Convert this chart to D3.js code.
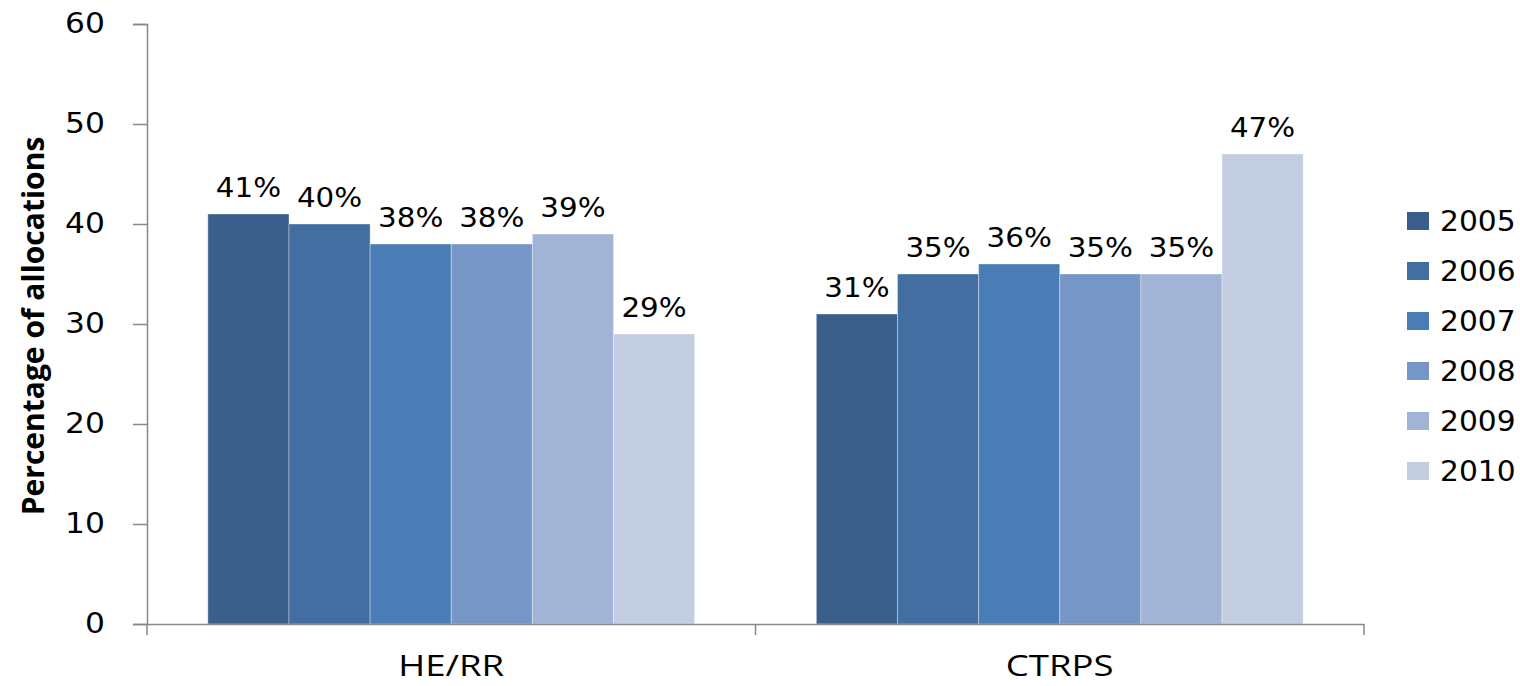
<!DOCTYPE html>
<html>
<head>
<meta charset="utf-8">
<script src="https://cdn.jsdelivr.net/npm/d3@7"></script>
<style>
  body { margin: 0; background: #fff; }
</style>
</head>
<body>
<div id="chart"></div>
<script>
const categories = ['HE/RR', 'CTRPS']
const years = ['2005', '2006', '2007', '2008', '2009', '2010']
const values = {
  '2005': [41, 31],
  '2006': [40, 35],
  '2007': [38, 36],
  '2008': [38, 35],
  '2009': [39, 35],
  '2010': [29, 47]
}
const colors = ['#3A5F8B', '#426EA1', '#4A7DB5', '#7596C6', '#A2B4D5', '#C3CDE2']
const yTicks = [0, 10, 20, 30, 40, 50, 60]

const width = 1520
const height = 686
const margin = { top: 24, right: 156, bottom: 62, left: 147 }

// the original looks stretched sideways, so text gets a small x-scale
const stretch = (sel, sx) => {
  sel.each(function () {
    const t = d3.select(this)
    const x = +t.attr('x') || 0
    const y = +t.attr('y') || 0
    t.attr('x', 0).attr('y', 0)
      .attr('transform', `translate(${x},${y}) scale(${sx},1)`)
  })
}

const svg = d3.select('#chart')
  .append('svg')
  .attr('width', width)
  .attr('height', height)

const x0 = d3.scaleBand()
  .domain(categories)
  .range([margin.left, width - margin.right])

const x1 = d3.scaleBand()
  .domain(years)
  .range([0, x0.bandwidth() * 0.8])

const y = d3.scaleLinear()
  .domain([0, 60])
  .range([height - margin.bottom, margin.top])

const color = d3.scaleOrdinal().domain(years).range(colors)

// y axis
const yAxis = svg.append('g')
  .attr('transform', `translate(${margin.left},0)`)
  .call(d3.axisLeft(y).tickValues(yTicks).tickSize(14).tickPadding(28))
yAxis.select('.domain').attr('stroke', '#888').attr('stroke-width', 1.5)
yAxis.selectAll('.tick line').attr('stroke', '#888').attr('stroke-width', 1.5)
yAxis.selectAll('.tick text')
  .attr('font-family', 'DejaVu Sans, sans-serif')
  .attr('font-size', 28)
  .attr('fill', '#000')
  .call(stretch, 1.12)

// bars
const groups = svg.append('g')
  .selectAll('g')
  .data(categories)
  .join('g')
  .attr('transform', d => `translate(${x0(d) + x0.bandwidth() * 0.1},0)`)

groups.selectAll('rect')
  .data((c, i) => years.map(yr => ({ year: yr, value: values[yr][i] })))
  .join('rect')
  .attr('x', d => x1(d.year))
  .attr('y', d => y(d.value))
  .attr('width', x1.bandwidth())
  .attr('height', d => y(0) - y(d.value))
  .attr('fill', d => color(d.year))
  .attr('stroke', 'rgba(255,255,255,0.35)')
  .attr('stroke-width', 1)

groups.selectAll('text')
  .data((c, i) => years.map(yr => ({ year: yr, value: values[yr][i] })))
  .join('text')
  .attr('x', d => x1(d.year) + x1.bandwidth() / 2)
  .attr('y', d => y(d.value) - 17)
  .attr('text-anchor', 'middle')
  .attr('font-family', 'DejaVu Sans, sans-serif')
  .attr('font-size', 26)
  .attr('fill', '#000')
  .text(d => d.value + '%')
  .call(stretch, 1.13)

// x axis
const xAxis = svg.append('g')
  .attr('transform', `translate(0,${y(0)})`)
  .call(d3.axisBottom(x0).tickSize(0).tickPadding(31))
xAxis.select('.domain').attr('stroke', '#888').attr('stroke-width', 1.5)
xAxis.selectAll('.tick text')
  .attr('font-family', 'Open Sans, sans-serif')
  .attr('font-size', 30)
  .attr('fill', '#000')
  .call(stretch, 1.22)

xAxis.selectAll('.sep')
  .data([margin.left, x0('CTRPS'), width - margin.right])
  .join('line')
  .attr('class', 'sep')
  .attr('x1', d => d)
  .attr('x2', d => d)
  .attr('y1', 0)
  .attr('y2', 11)
  .attr('stroke', '#888')
  .attr('stroke-width', 1.5)

// y axis title
svg.append('text')
  .attr('transform', `translate(44,${(margin.top + height - margin.bottom) / 2 + 2}) rotate(-90)`)
  .attr('text-anchor', 'middle')
  .attr('font-family', 'Open Sans, sans-serif')
  .attr('font-weight', 'bold')
  .attr('font-size', 30)
  .attr('fill', '#000')
  .text('Percentage of allocations')

// legend
const legend = svg.append('g')
  .selectAll('g')
  .data(years)
  .join('g')
  .attr('transform', (d, i) => `translate(1407,${221 + i * 50})`)

legend.append('rect')
  .attr('x', 0)
  .attr('y', -9)
  .attr('width', 22)
  .attr('height', 18)
  .attr('fill', d => color(d))

legend.append('text')
  .attr('x', 33)
  .attr('y', 0)
  .attr('dy', '0.36em')
  .attr('font-family', 'DejaVu Sans, sans-serif')
  .attr('font-size', 28)
  .attr('fill', '#000')
  .text(d => d)
  .call(stretch, 1.06)
</script>
</body>
</html>
